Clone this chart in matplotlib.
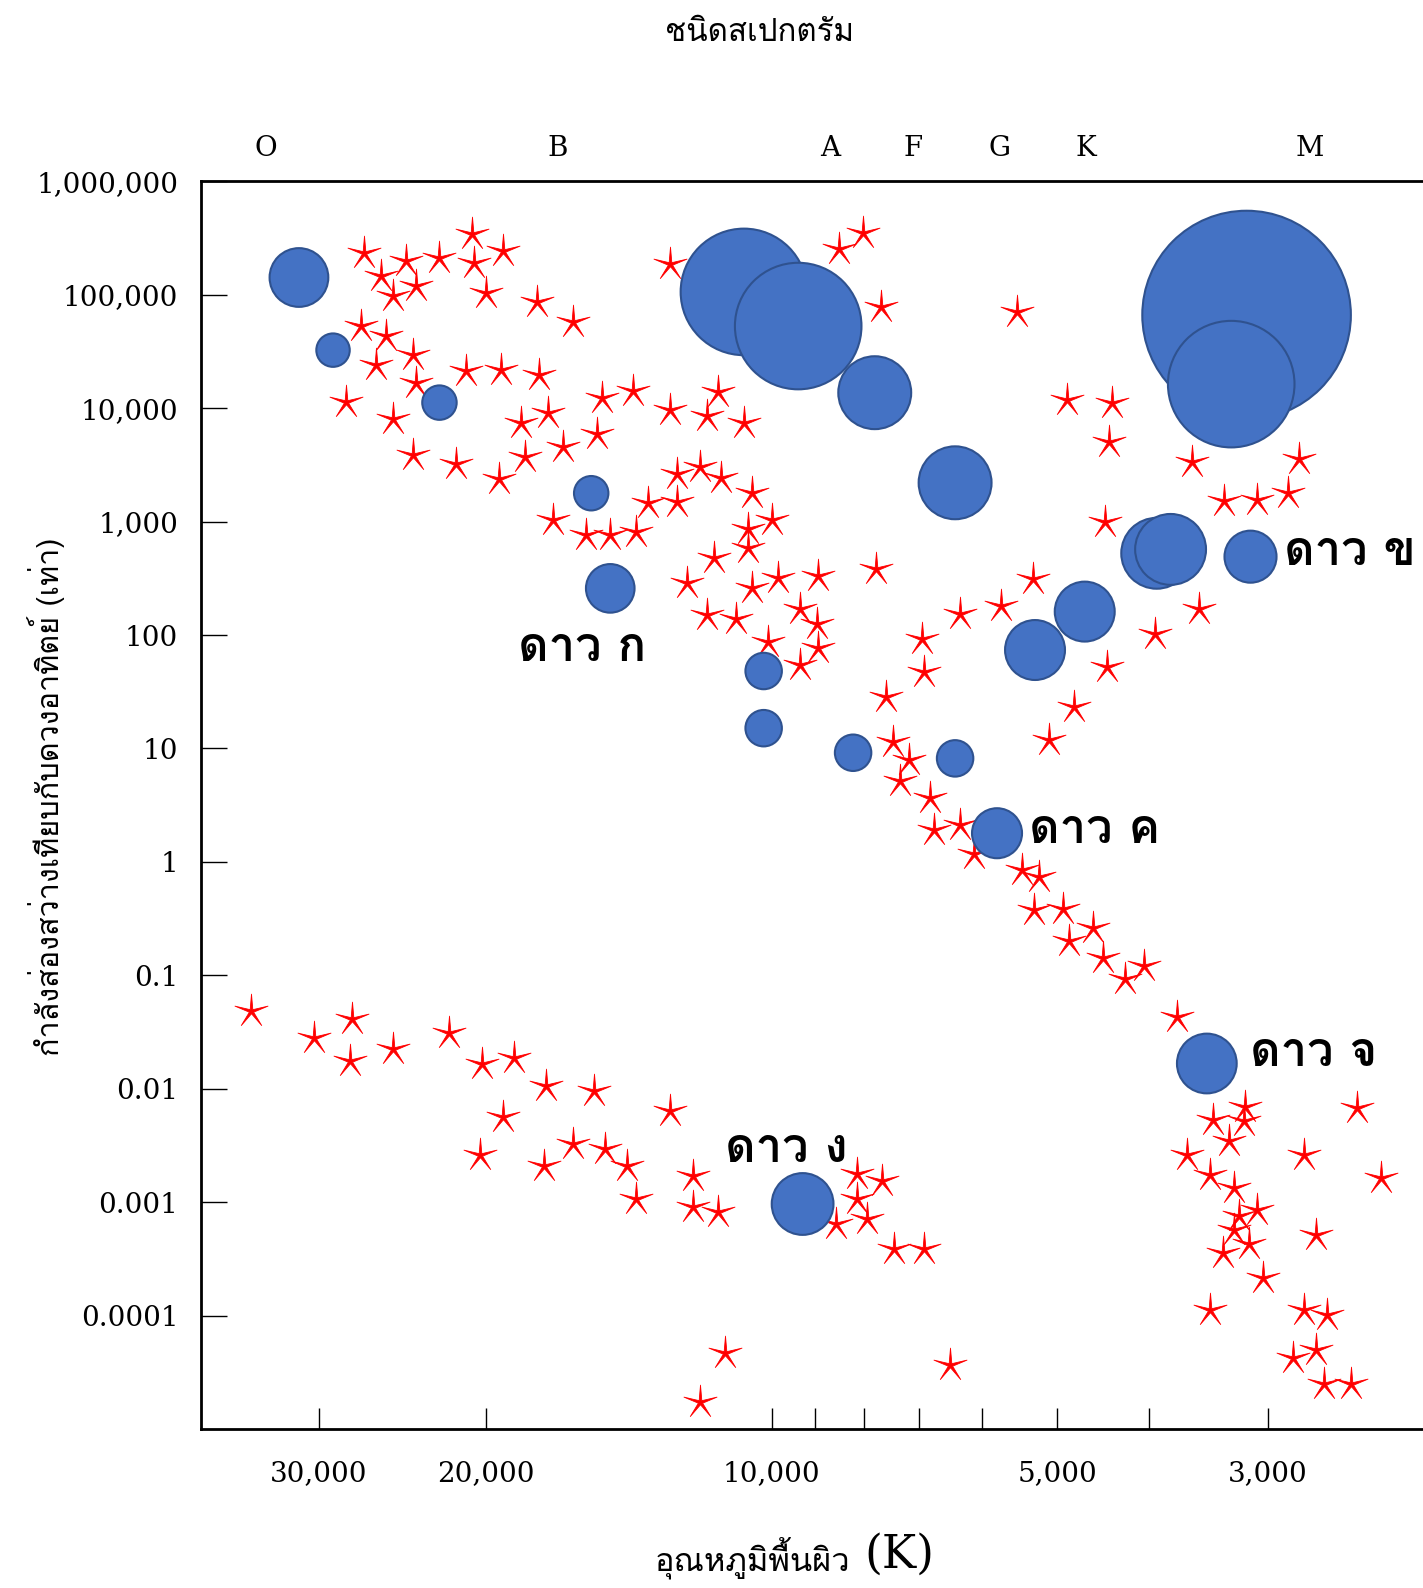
import numpy as np
import matplotlib
matplotlib.use("Agg")
import matplotlib.pyplot as plt
from matplotlib.path import Path
from matplotlib.ticker import FixedLocator, NullLocator
from matplotlib import font_manager
from matplotlib.ft2font import FT2Font

# ดาวทั่วไป (ดาวสีแดง): อุณหภูมิพื้นผิว (K) และกำลังส่องสว่าง (เท่าของดวงอาทิตย์)
star_temp = [26900, 25800, 24300, 25100, 23700, 22400, 20700, 20600, 19200, 20000,
             17700, 16200, 27100, 25500, 23900, 26100, 23700, 28100, 25100, 23900,
             21500, 21000, 19300, 17600, 19400, 18200, 18400, 17200, 16600, 15300,
             15100, 14000, 12800, 11700, 11400, 10700, 17000, 15700, 14800, 13900,
             13500, 12600, 12600, 11900, 11300, 10500, 10600, 10000, 10600, 11500,
             12300, 11700, 10900, 10500, 9860, 8940, 9340, 8960, 10100, 8940,
             9340, 12800, 8490, 8020, 7670, 5510, 7770, 6950, 6920, 7580,
             7450, 7160, 7320, 6820, 6750, 6330, 6120, 5450, 5230, 5290,
             4930, 4860, 4590, 4480, 4240, 4050, 3740, 6330, 5730, 5310,
             5110, 4800, 4430, 3950, 3550, 4460, 3610, 3340, 3080, 2860,
             2780, 4410, 4880, 4380,
             35400, 30400, 27700, 27800, 25100, 21900, 20200, 18700, 19200, 17300,
             15400, 20300, 17400, 16200, 15000, 14200, 13900, 12800, 12100, 12100,
             11400, 8550, 8140, 7650, 8140, 7940, 7430, 6920, 11900, 11200, 6490,
             3430, 3170, 3180, 3300, 3650, 2750, 3450, 3260, 3080, 3220,
             3260, 3140, 3350, 2670, 3040, 3450, 2750, 2600, 2820, 2670, 2620,
             2420, 2280, 2450]
star_lum = [232000, 145000, 197000, 98000, 120000, 209000, 343000, 189000, 242000, 104000,
            86600, 57400, 52800, 43100, 29700, 24200, 16700, 11300, 7980, 3880,
            3230, 21400, 21800, 19700, 2370, 3720, 7350, 9020, 4580, 5980,
            12300, 14200, 9600, 8490, 13900, 7350, 1040, 766, 766, 815,
            1450, 1480, 2630, 3030, 2420, 1780, 866, 1040, 586, 477,
            285, 151, 139, 258, 316, 330, 171, 125, 86.6, 76.6,
            54.0, 185000, 252000, 351000, 78100, 70500, 380, 92.1, 46.8, 28.5,
            11.5, 7.98, 5.18, 3.65, 1.93, 2.10, 1.18, 0.849, 0.735, 0.380,
            0.388, 0.201, 0.263, 0.142, 0.0921, 0.120, 0.0431, 154, 182, 310,
            11.8, 23.2, 51.8, 102, 171, 1000, 3370, 1510, 1540, 1780,
            3580, 5070, 11800, 11100,
            0.0487, 0.0279, 0.0413, 0.0174, 0.0223, 0.0310, 0.0164, 0.0185, 0.00562, 0.0106,
            0.0096, 0.00263, 0.00210, 0.00323, 0.00297, 0.00210, 0.00106, 0.00637, 0.00171, 0.000902,
            0.000815, 0.000637, 0.00178, 0.00154, 0.00106, 0.000705, 0.000388, 0.000388, 1.74e-5, 4.68e-5, 3.65e-5,
            0.00528, 0.00690, 0.00518, 0.00343, 0.00263, 0.00263, 0.00174, 0.00133, 0.000849, 0.000750,
            0.000574, 0.000431, 0.000358, 0.000518, 0.000214, 0.000113, 0.000113, 0.000102, 4.22e-5, 4.97e-5, 2.47e-5,
            0.00676, 0.00164, 2.52e-5]

# ดาวที่แสดงเป็นวงกลมสีน้ำเงิน (รัศมีสัมพัทธ์)
bubble_temp = [31500, 29000, 22400, 15500, 14800, 10700, 9380, 7790, 6410, 10200,
               10200, 8210, 6410, 5790, 5280, 4680, 3930, 3800, 3130, 3160,
               3280, 3480, 9280]
bubble_lum = [142000, 32500, 11200, 1780, 258, 106000, 53000, 13700, 2200, 48.2,
              15.1, 9.17, 8.18, 1.79, 73.8, 161, 526, 569, 491, 66300,
              16300, 0.0167, 0.000964]
bubble_radius = [29, 16.5, 17, 17, 24, 62.5, 62.5, 36, 36, 18,
                 18, 18, 18, 24.7, 29.6, 29.6, 35, 35, 25.7, 103,
                 62.5, 29.5, 30.5]

# ชื่อดาวที่ระบุ และดาว (ลำดับในวงกลม) ที่ชื่อนั้นชี้
name_text = ["ดาว ก", "ดาว ข", "ดาว ค", "ดาว ง", "ดาว จ"]
name_bubble = [4, 18, 13, 22, 21]

# ชนิดสเปกตรัมบนแกนด้านบน
spec_types = ["O", "B", "A", "F", "G", "K", "M"]
spec_temp = [34100, 16800, 8670, 7100, 5750, 4670, 2710]

x_ticks = [30000, 20000, 10000, 9000, 8000, 7000, 6000, 5000, 4000, 3000]
x_tick_labels = ["30,000", "20,000", "10,000", "", "", "", "", "5,000", "", "3,000"]
y_ticks = [1e6, 1e5, 1e4, 1e3, 1e2, 10, 1, 0.1, 0.01, 0.001, 0.0001]
y_tick_labels = ["1,000,000", "100,000", "10,000", "1,000", "100", "10", "1",
                 "0.1", "0.01", "0.001", "0.0001"]


def thai_font():
    # หาฟอนต์ที่มีอักษรไทย
    for f in font_manager.fontManager.ttflist:
        if "CJK" in f.name:
            continue
        try:
            cmap = FT2Font(f.fname).get_charmap()
        except Exception:
            continue
        if 0x0E14 in cmap and 0x0E32 in cmap and 0x0E01 in cmap:
            return f.name
    return "DejaVu Sans"


thai = [thai_font(), "DejaVu Sans"]
serif = "DejaVu Serif"

# รูปดาวแฉกบาง ๆ
ang_out = np.pi / 2 + np.arange(5) * 2 * np.pi / 5
ang_in = ang_out + np.pi / 5
verts = []
for a, b in zip(ang_out, ang_in):
    verts.append((np.cos(a), np.sin(a)))
    verts.append((0.13 * np.cos(b), 0.13 * np.sin(b)))
verts.append(verts[0])
star_marker = Path(verts, closed=True)

fig = plt.figure(figsize=(14.23, 15.88), dpi=100)
ax = fig.add_axes([0.1409, 0.1001, 0.8676, 0.7857])
ax.set_xscale("log")
ax.set_yscale("log")
ax.set_xlim(40000, 2000)
ax.set_ylim(1e-5, 1e6)

ax.scatter(star_temp, star_lum, marker=star_marker, s=25 ** 2, color="red",
           edgecolors="red", linewidths=0.6, zorder=2)

sizes = [(r * 1.458) ** 2 for r in bubble_radius]
ax.scatter(bubble_temp, bubble_lum, s=sizes, color="#4472C4",
           edgecolors="#2F528F", linewidths=1.5, zorder=3)

offsets = [(-20, -43, "center"), (24, 3, "left"), (23, 2, "left"),
           (-12, 39, "center"), (31, 7, "left")]
for name, idx, (dx, dy, ha) in zip(name_text, name_bubble, offsets):
    ax.annotate(name, xy=(bubble_temp[idx], bubble_lum[idx]), xytext=(dx, dy),
                textcoords="offset points", ha=ha, va="center", fontsize=34,
                fontweight="bold", family=thai, zorder=4)

ax.xaxis.set_major_locator(FixedLocator(x_ticks))
ax.xaxis.set_minor_locator(NullLocator())
ax.set_xticklabels(x_tick_labels, family=serif, fontsize=20)
ax.yaxis.set_major_locator(FixedLocator(y_ticks))
ax.yaxis.set_minor_locator(NullLocator())
ax.set_yticklabels(y_tick_labels, family=serif, fontsize=20)
ax.tick_params(axis="x", direction="in", length=15, width=1, pad=22)
ax.tick_params(axis="y", direction="in", length=19, width=1, pad=16)

for side in ["left", "bottom", "top"]:
    ax.spines[side].set_linewidth(2)
ax.spines["right"].set_visible(False)

ax2 = ax.twiny()
ax2.set_xscale("log")
ax2.set_xlim(ax.get_xlim())
ax2.xaxis.set_major_locator(FixedLocator(spec_temp))
ax2.xaxis.set_minor_locator(NullLocator())
ax2.set_xticklabels(spec_types, family=serif, fontsize=20)
ax2.tick_params(axis="x", length=0, pad=14)
for s in ax2.spines.values():
    s.set_visible(False)

fig.text(0.534, 0.979, "ชนิดสเปกตรัม", ha="center", va="center",
         fontsize=22.5, family=thai)
fig.text(0.0323, 0.498, "กำลังส่องสว่างเทียบกับดวงอาทิตย์ (เท่า)", rotation=90,
         ha="center", va="center", fontsize=22, family=thai)
fig.text(0.529, 0.019, "อุณหภูมิพื้นผิว", ha="center", va="center",
         fontsize=23.5, family=thai)
fig.text(0.632, 0.021, "(K)", ha="center", va="center", fontsize=33, family=serif)

fig.savefig("out.png", dpi=100)
